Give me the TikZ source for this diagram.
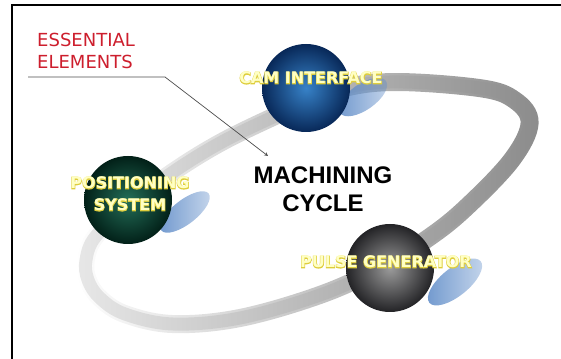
\documentclass[tikz,border=0pt]{standalone}
\usepackage{fontspec}
\setmainfont{DejaVu Sans}
\newfontfamily\titlefont{Liberation Sans}
\newfontfamily\ballfont{DejaVu Sans Bold}
\newfontfamily\glowfont{DejaVu Sans Bold}[FakeBold=7]
\usetikzlibrary{fadings}

\definecolor{camhi}{RGB}{55,130,200}
\definecolor{camlo}{RGB}{8,40,88}
\definecolor{poshi}{RGB}{35,110,88}
\definecolor{poslo}{RGB}{2,32,24}
\definecolor{pulhi}{RGB}{155,155,155}
\definecolor{pullo}{RGB}{35,35,38}
\definecolor{shadowblue}{RGB}{95,140,200}
\definecolor{labelfill}{RGB}{255,255,195}
\definecolor{labelglow}{RGB}{222,205,60}
\definecolor{notered}{RGB}{205,30,45}

\tikzfading[name=shadowfade, left color=transparent!10, right color=transparent!65]

\tikzset{
	ball/.style={circle, minimum size=88pt, inner sep=0pt},
	ballshadow/.style={fill=shadowblue, path fading=shadowfade},
	glow/.style={font=\glowfont\fontsize{16}{22}\selectfont, text=labelglow, align=center},
	balltext/.style={font=\ballfont\fontsize{16}{22}\selectfont, text=labelfill, align=center},
	leader/.style={draw=black!70, line width=0.7pt},
}

% quỹ đạo của chu trình
\newcommand{\orbitpath}{plot[smooth cycle, tension=0.6] coordinates {(86,98) (96,122) (132,155) (173,186) (220,215) (273,241) (330,266) (390,276) (480,270) (515,258) (530,235) (512,198) (467,151) (430,121) (380,90) (320,63) (240,40) (173,34) (125,44) (100,60) (88,78)}}

\begin{document}
\begin{tikzpicture}[x=1pt, y=1pt]
			\useasboundingbox (0,0) rectangle (561,358);
			% 1. Khung ngoài
			\draw[line width=2.5pt] (12,-5) -- (12,353) -- (570,353);
			
			% 2. Vòng quỹ đạo (nhạt bên trái, đậm bên phải)
			\draw[line width=13pt, black!9] \orbitpath;
			\draw[line width=18pt, black!45, path fading=west] \orbitpath;
			
			% 3. Bóng đổ của các quả cầu
			\fill[ballshadow, rotate around={35:(363,261)}] (363,261) ellipse (28 and 13);
			\fill[ballshadow, rotate around={38:(185,146)}] (185,146) ellipse (30 and 12);
			\fill[ballshadow, rotate around={39:(455,76)}] (455,76) ellipse (33 and 14);
			
			% 4. Ba quả cầu
			\node[ball, inner color=camhi, outer color=camlo] (cam) at (306,270) {};
			\node[ball, inner color=poshi, outer color=poslo] (pos) at (128,158) {};
			\node[ball, inner color=pulhi, outer color=pullo] (pulse) at (390,90) {};
			
			% Chữ vàng trên quả cầu (lớp viền rồi lớp chữ)
			\node[glow] (camglow) at ([xshift=5pt, yshift=10pt]cam.center) {CAM INTERFACE};
			\node[balltext] (camtext) at (camglow) {CAM INTERFACE};
			\node[glow] (posglow) at ([xshift=2pt, yshift=6pt]pos.center) {POSITIONING\\SYSTEM};
			\node[balltext] (postext) at (posglow) {POSITIONING\\SYSTEM};
			\node[glow] (pulseglow) at ([xshift=-4pt, yshift=6pt]pulse.center) {PULSE GENERATOR};
			\node[balltext] (pulsetext) at (pulseglow) {PULSE GENERATOR};
			
			% 5. Tiêu đề ở giữa
			\node[font=\titlefont\bfseries\fontsize{24}{28}\selectfont, align=center] (cycle) at (323,169) {MACHINING\\CYCLE};
			
			% 6. Ghi chú màu đỏ và đường dẫn
			\node[notered, anchor=west, align=left, inner sep=0pt, font=\fontsize{18}{22}\selectfont] (essential) at (37,307) {ESSENTIAL\\ELEMENTS};
			\coordinate (lstart) at (28,281);
			\coordinate (lbend) at (165,281);
			\coordinate (ltip) at (268,202);
			\draw[leader, -stealth] (lstart) -- (lbend) -- (ltip);
\end{tikzpicture}
\end{document}
